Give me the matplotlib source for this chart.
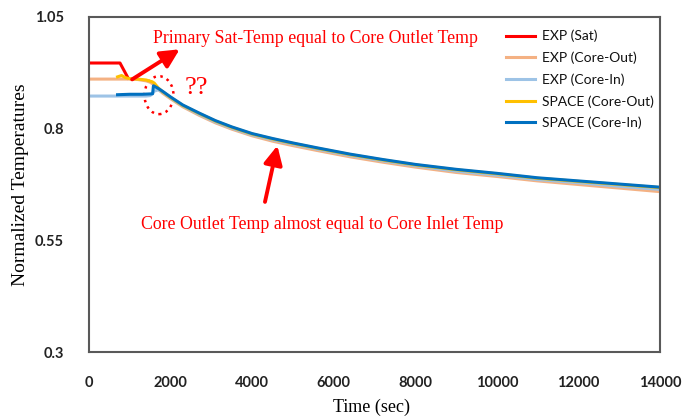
import matplotlib.pyplot as plt
from matplotlib.patches import Ellipse

# time axis (sec) and normalized temperatures
t_sat = [0, 760, 960]
exp_sat = [0.947, 0.947, 0.913]

t_exp = [0, 1000, 1200, 1400, 1500, 1600, 1700, 1800, 2000, 2300, 2700, 3100, 3500,
         4000, 4500, 5000, 5600, 6400, 7200, 8000, 9000, 10000, 11000, 12000, 13000, 14000]
exp_out = [0.911, 0.911, 0.910, 0.907, 0.904, 0.898, 0.888, 0.880, 0.867, 0.849, 0.830,
           0.813, 0.799, 0.784, 0.772, 0.762, 0.751, 0.737, 0.725, 0.714, 0.702, 0.693,
           0.683, 0.675, 0.667, 0.659]
exp_in = [0.873, 0.873, 0.873, 0.873, 0.874, 0.884, 0.887, 0.882, 0.869, 0.851, 0.832,
          0.815, 0.801, 0.786, 0.775, 0.765, 0.754, 0.740, 0.728, 0.717, 0.705, 0.696,
          0.686, 0.679, 0.671, 0.664]

t_space_out = [700, 800, 900, 1000, 1200, 1400, 1550, 1600, 1700, 1800, 2000, 2300, 2700,
               3100, 3500, 4000, 4500, 5000, 5600, 6400, 7200, 8000, 9000, 10000, 11000,
               12000, 13000, 14000]
space_out = [0.916, 0.919, 0.914, 0.912, 0.911, 0.909, 0.905, 0.902, 0.891, 0.883, 0.870,
             0.852, 0.834, 0.817, 0.803, 0.788, 0.777, 0.767, 0.756, 0.742, 0.730, 0.719,
             0.708, 0.699, 0.689, 0.682, 0.675, 0.668]

t_space_in = [700, 1000, 1300, 1560, 1580, 1700, 1800, 2000, 2300, 2700, 3100, 3500, 4000,
              4500, 5000, 5600, 6400, 7200, 8000, 9000, 10000, 11000, 12000, 13000, 14000]
space_in = [0.876, 0.877, 0.877, 0.878, 0.896, 0.890, 0.884, 0.871, 0.853, 0.835, 0.818,
            0.804, 0.789, 0.778, 0.768, 0.757, 0.743, 0.731, 0.720, 0.709, 0.700, 0.690,
            0.683, 0.676, 0.669]

xticks = [0, 2000, 4000, 6000, 8000, 10000, 12000, 14000]
yticks = [0.3, 0.55, 0.8, 1.05]

fig = plt.figure(figsize=(6.94, 4.2), dpi=100)
ax = fig.add_axes([89/694, 68/420, 571/694, 335/420])

lw = 2.2
ax.plot(t_sat, exp_sat, color='#FF0000', lw=lw, label='EXP (Sat)')
ax.plot(t_exp, exp_out, color='#F4B183', lw=lw, label='EXP (Core-Out)')
ax.plot(t_exp, exp_in, color='#9DC3E6', lw=lw, label='EXP (Core-In)')
ax.plot(t_space_out, space_out, color='#FFC000', lw=lw, label='SPACE (Core-Out)')
ax.plot(t_space_in, space_in, color='#0070C0', lw=lw, label='SPACE (Core-In)')

ax.set_xlim(0, 14000)
ax.set_ylim(0.3, 1.05)
ax.set_xticks(xticks)
ax.set_yticks(yticks)
ax.set_yticklabels(['0.3', '0.55', '0.8', '1.05'])
ax.tick_params(length=0, labelsize=10.5, colors='#222222')
ax.tick_params(axis='y', pad=18)
ax.tick_params(axis='x', pad=17)
for lab in ax.get_xticklabels() + ax.get_yticklabels():
    lab.set_fontfamily('Lato')
    lab.set_fontweight('bold')

for s in ax.spines.values():
    s.set_color('#595959')
    s.set_linewidth(1.5)

ax.set_xlabel('Time (sec)', family='Liberation Serif', fontsize=13)
ax.set_ylabel('Normalized Temperatures', family='Liberation Serif', fontsize=14)
ax.xaxis.set_label_coords(0.495, -0.14)
ax.yaxis.set_label_coords(-0.105, 0.5)

leg = ax.legend(loc='upper left', bbox_to_anchor=(0.72, 0.978), frameon=False,
                prop={'family': 'Lato', 'size': 10}, handlelength=2.1,
                labelspacing=0.66, handletextpad=0.55, borderaxespad=0)
for txt in leg.get_texts():
    txt.set_color('#111111')

# annotations
ax.text(1570, 1.002, 'Primary Sat-Temp equal to Core Outlet Temp', color='red',
        family='Liberation Serif', fontsize=12.8, ha='left', va='center')
ax.annotate('', xy=(2280, 0.981), xytext=(1000, 0.907),
            arrowprops=dict(arrowstyle='-|>', color='red', lw=2.8, mutation_scale=28))
ax.add_patch(Ellipse((1716, 0.875), 711, 0.085, fill=False, edgecolor='red',
                     linestyle=(0, (1, 1.8)), lw=1.8))
ax.text(2350, 0.89, '??', color='red', family='Liberation Serif', fontsize=19,
        ha='left', va='center')
ax.annotate('', xy=(4633, 0.768), xytext=(4300, 0.63),
            arrowprops=dict(arrowstyle='-|>', color='red', lw=2.8, mutation_scale=28))
ax.text(5712, 0.585, 'Core Outlet Temp almost equal to Core Inlet Temp', color='red',
        family='Liberation Serif', fontsize=12.8, ha='center', va='center')

fig.savefig('out.png', dpi=100)
